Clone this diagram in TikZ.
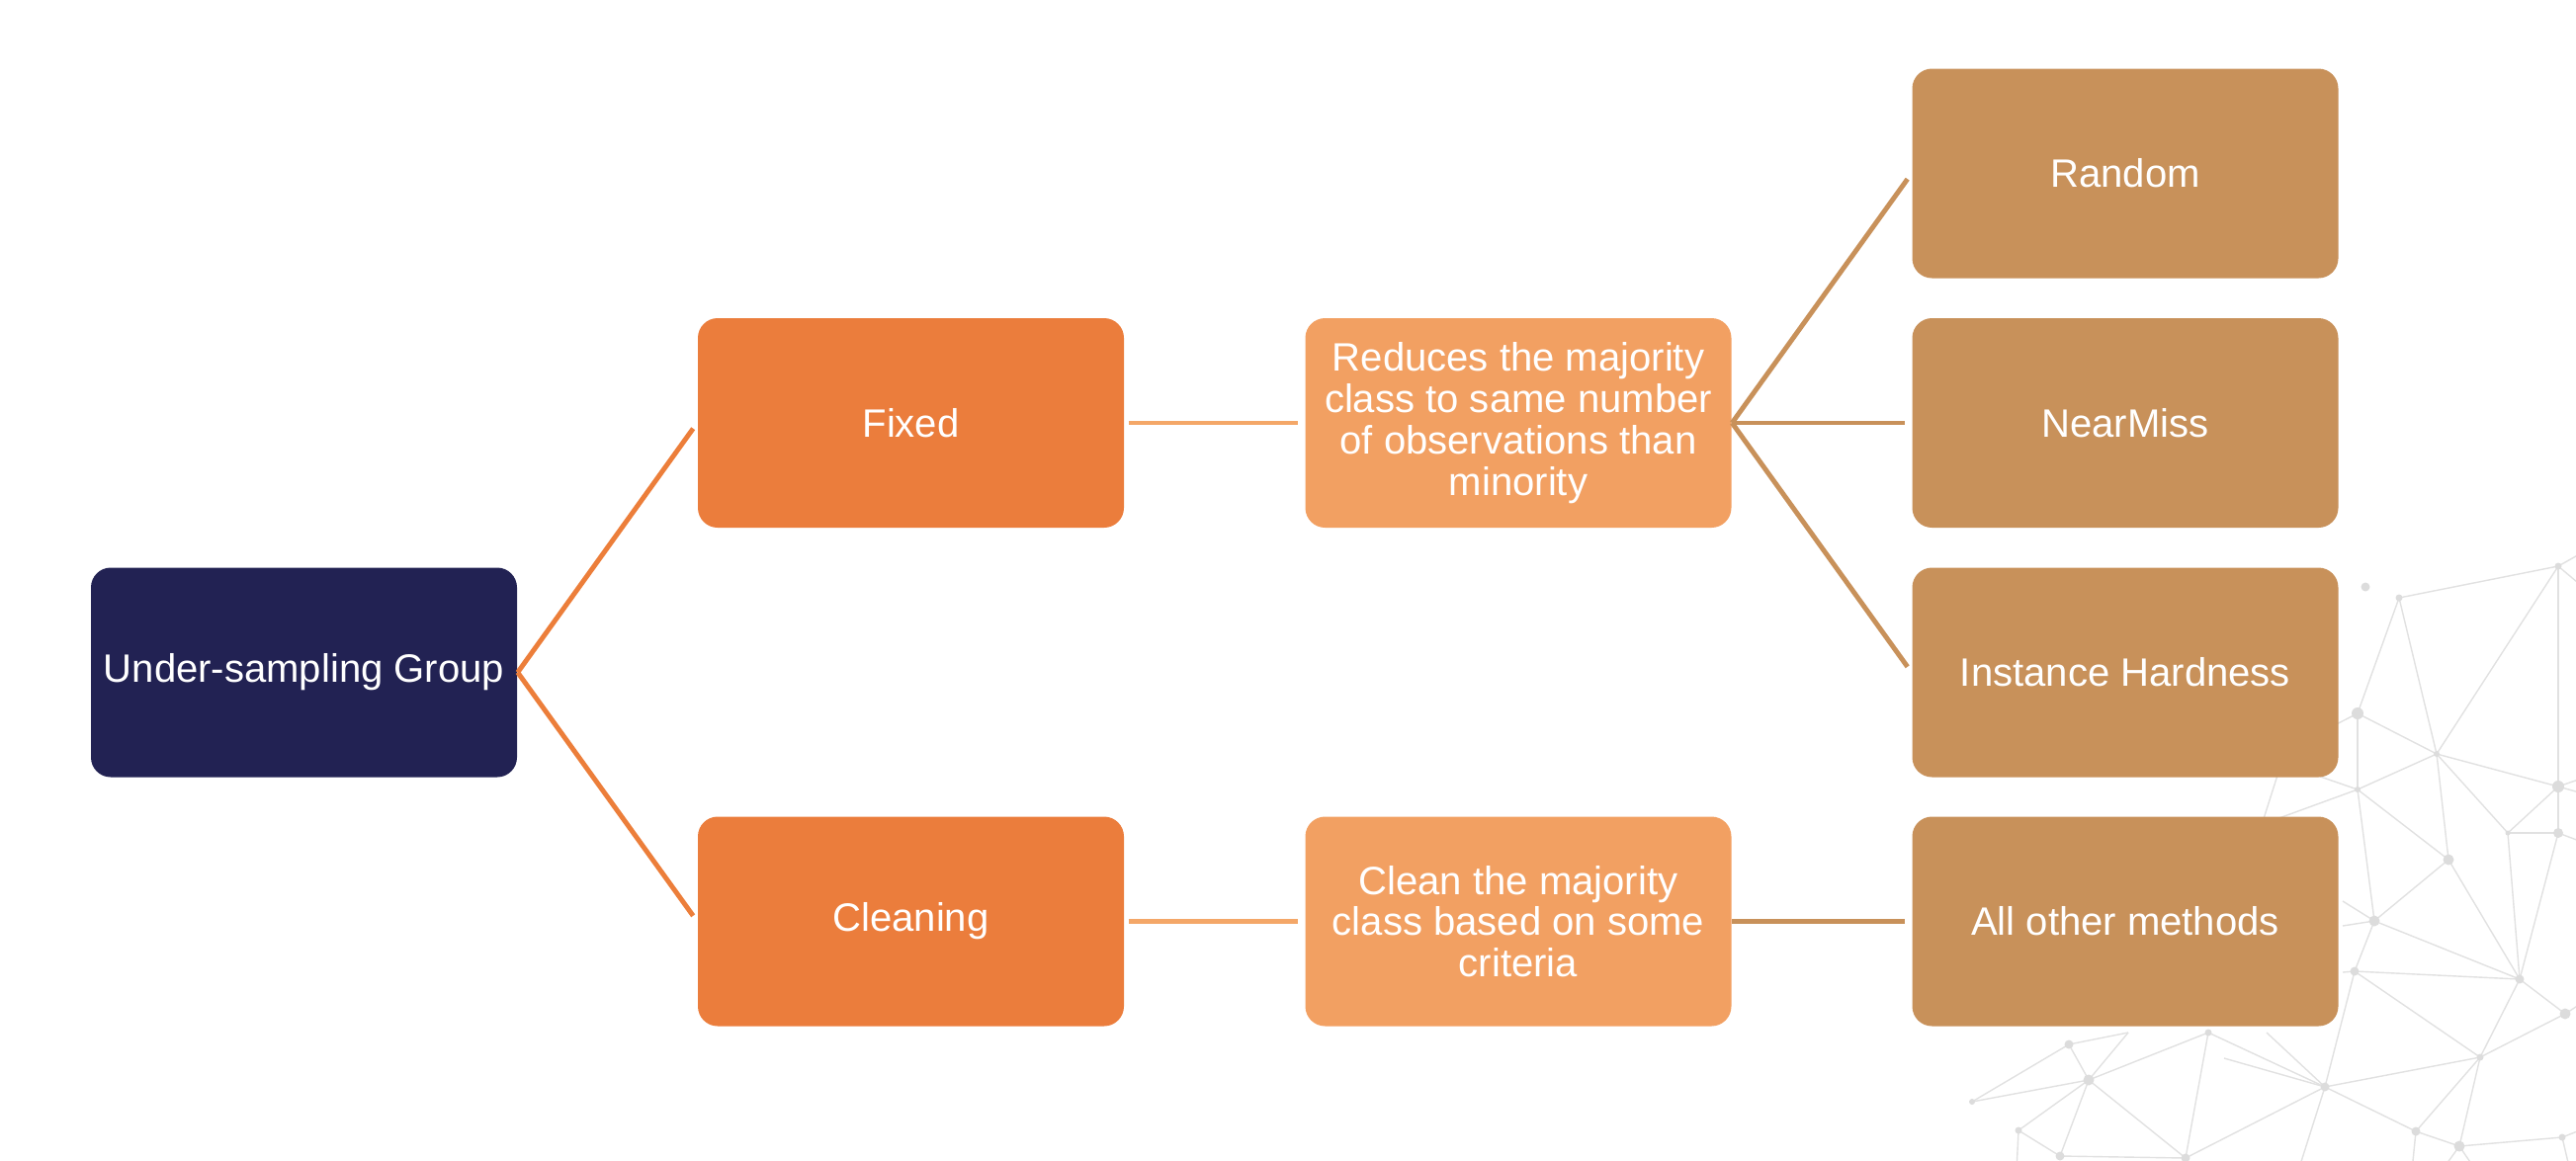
\documentclass[tikz,border=0pt]{standalone}
\usepackage{fontspec}
\setmainfont{Liberation Sans}
\definecolor{navy}{HTML}{222253}
\definecolor{orangebox}{HTML}{EB7D3C}
\definecolor{lightorange}{HTML}{F2A062}
\definecolor{tan}{HTML}{C8915A}
\definecolor{linkorange}{HTML}{EC7E3A}
\definecolor{linklight}{HTML}{F4A768}
\definecolor{netgray}{HTML}{E1E1E1}
\definecolor{dotgray}{HTML}{DCDCDC}

\begin{document}
\begin{tikzpicture}[
    box/.style={rounded corners=0.2cm, minimum width=4.31cm, minimum height=2.12cm,
      inner sep=0pt, text=white, align=center, font=\fontsize{11.4}{11.9}\selectfont},
    link/.style={line width=1.4pt, shorten >=0.07cm},
    netline/.style={draw=netgray, line width=0.4pt},
    netdot/.style={fill=dotgray}]
    \useasboundingbox (0,0) rectangle (26.06,-11.74);

    \begin{scope}
        \clip (0,0) rectangle (26.06,-11.74);
        \foreach \n/\x/\y in {vA/23.93/-5.94, vB/24.27/-6.05, vC/25.88/-5.73, vD/23.85/-7.22,
            vE/24.65/-7.63, vF/25.88/-7.96, vG/23.85/-7.99, vH/25.37/-8.43, vI/25.88/-8.43,
            vJ/24.77/-8.70, vK/24.02/-9.32, vL/23.82/-9.83, vM/25.49/-9.91, vN/25.95/-10.26,
            vO/25.09/-10.70, vP/23.52/-11.00, vQ/24.44/-11.45, vR/24.88/-11.60, vS/25.92/-11.51,
            va/20.93/-10.57, vb/21.13/-10.93, vc/19.95/-11.15, vd/20.42/-11.44, ve/20.84/-11.70,
            vf/22.11/-11.72, vg/22.34/-10.45, vi/21.53/-10.45,
            w1/26.2/-5.55, w2/26.2/-6.00, w3/26.2/-7.85, w4/26.2/-8.05, w5/26.2/-8.55,
            w6/26.2/-10.10, w7/26.2/-11.40, w8/20.40/-11.85, w9/23.25/-11.85, w10/24.40/-11.85,
            w11/24.70/-11.85, w12/25.05/-11.85, w13/23.40/-7.45, w14/23.30/-7.80, w15/23.00/-8.30,
            w16/23.70/-9.12, w17/23.70/-9.37, w18/23.70/-9.84, w19/22.50/-10.71, w20/22.93/-10.45,
            w21/22.80/-8.60, w22/23.15/-7.50, w23/26.00/-11.85}
            \coordinate (\n) at (\x,\y);
        \foreach \u/\v in {vB/vC, vB/vE, vB/vD, vC/vE, vC/vF, vD/vE, vD/vG, vG/vE, vE/vF, vE/vH,
            vE/vJ, vF/vH, vF/vI, vH/vI, vH/vM, vG/vJ, vG/vK, vJ/vK, vJ/vM, vK/vM, vK/vL, vL/vM,
            vL/vO, vM/vO, vM/vN, vO/vN, vO/vP, vO/vQ, vO/vR, vP/vQ, vL/vP, vQ/vR, vR/vS, vI/vM,
            va/vi, va/vb, va/vc, vb/vi, vb/vg, vb/vc, vb/vd, vb/ve, vb/vf, vd/ve, ve/vf, vf/vg,
            vf/vP, vg/vP, vC/w1, vC/w2, vF/w3, vF/w4, vI/w5, vN/w6, vS/w7, vd/w8, vP/w9, vQ/w10,
            vR/w11, vR/w12, vD/w13, vG/w14, vG/w15, vK/w16, vK/w17, vL/w18, vP/w19, vP/w20,
            w21/w22, vS/w23}
            \draw[netline] (\u) -- (\v);
        \foreach \n/\r in {vA/0.045, vB/0.035, vC/0.035, vD/0.06, vE/0.03, vF/0.06, vG/0.03,
            vH/0.025, vI/0.05, vJ/0.055, vK/0.055, vL/0.045, vM/0.045, vN/0.055, vO/0.035,
            vP/0.045, vQ/0.045, vR/0.055, vS/0.035, va/0.045, vb/0.055, vc/0.03, vd/0.035,
            ve/0.045, vf/0.045, vg/0.035}
            \fill[netdot] (\n) circle (\r);
    \end{scope}

    \node[box, fill=navy] (group) at (3.075,-6.805) {Under-sampling Group};
    \node[box, fill=orangebox] (fixed) at (9.215,-4.28) {Fixed};
    \node[box, fill=orangebox] (cleaning) at (9.215,-9.325) {Cleaning};
    \node[box, fill=lightorange] (reduces) at (15.36,-4.28)
        {Reduces the majority\\class to same number\\of observations than\\minority};
    \node[box, fill=lightorange] (clean) at (15.36,-9.325)
        {Clean the majority\\class based on some\\criteria};
    \node[box, fill=tan] (random) at (21.5,-1.755) {Random};
    \node[box, fill=tan] (nearmiss) at (21.5,-4.28) {NearMiss};
    \node[box, fill=tan] (hardness) at (21.5,-6.805) {Instance Hardness};
    \node[box, fill=tan] (others) at (21.5,-9.325) {All other methods};

    \draw[link, linkorange] (group.east) -- (fixed.west);
    \draw[link, linkorange] (group.east) -- (cleaning.west);
    \draw[link, linklight, shorten <=0.04cm] (fixed.east) -- (reduces.west);
    \draw[link, linklight, shorten <=0.04cm] (cleaning.east) -- (clean.west);
    \draw[link, tan] (reduces.east) -- (random.west);
    \draw[link, tan] (reduces.east) -- (nearmiss.west);
    \draw[link, tan] (reduces.east) -- (hardness.west);
    \draw[link, tan] (clean.east) -- (others.west);
\end{tikzpicture}
\end{document}
